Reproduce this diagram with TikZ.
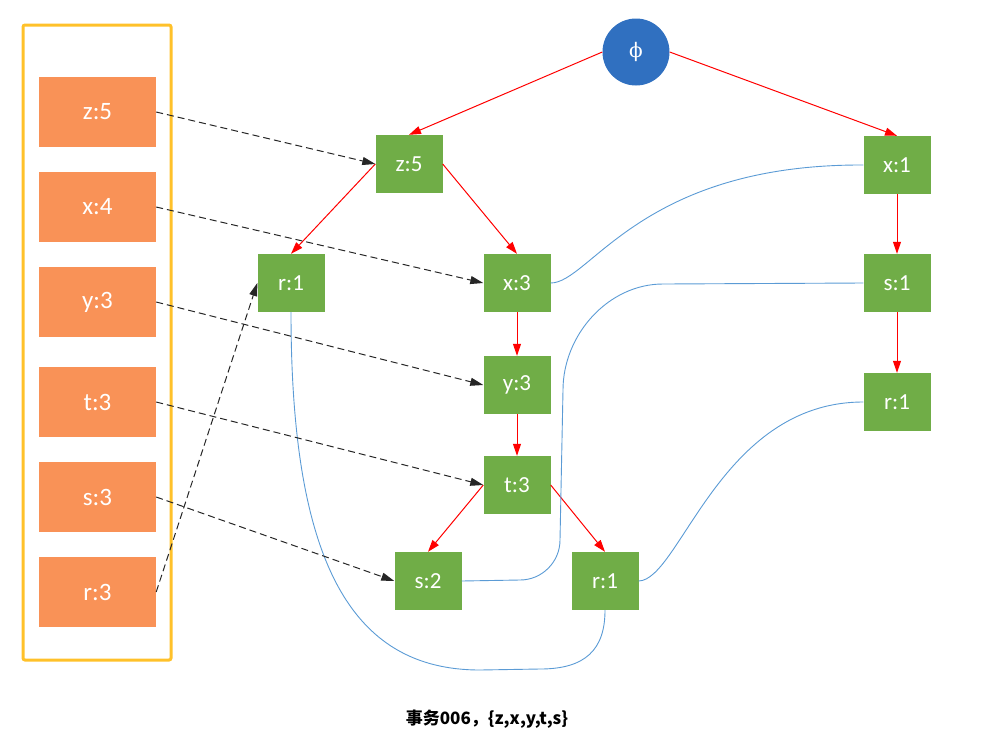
\documentclass[tikz,border=0pt]{standalone}
\usepackage{fontspec}
\setmainfont{Carlito}
\newfontfamily\cjk{Noto Sans CJK SC}
\newfontfamily\greekfont{DejaVu Serif}
\usetikzlibrary{arrows.meta}
\definecolor{itemorange}{HTML}{F99257}
\definecolor{fpgreen}{HTML}{70AD47}
\definecolor{rootblue}{HTML}{3070C0}
\definecolor{linkblue}{HTML}{5B9BD5}
\definecolor{framegold}{HTML}{FFC12A}
\tikzset{
  itemnode/.style = {rectangle, fill=itemorange, text=white, minimum width=117pt, minimum height=70pt, font=\fontsize{25}{30}\selectfont},
  fpnode/.style = {rectangle, fill=fpgreen, text=white, minimum width=67pt, minimum height=58pt, font=\fontsize{23}{28}\selectfont},
  rootnode/.style = {circle, fill=rootblue, text=white, minimum size=67pt, inner sep=0pt, font=\greekfont\fontsize{20}{24}\selectfont},
  tree_e/.style = {draw=red, line width=1pt, -{Triangle[length=12pt,width=8pt]}},
  scan_e/.style = {draw=black!85, line width=1pt, dash pattern=on 7pt off 4pt, -{Triangle[length=13pt,width=8pt]}},
  link_e/.style = {draw=linkblue, line width=0.9pt}
}

\begin{document}
\begin{tikzpicture}[x=1pt, y=-1pt]
    \useasboundingbox (0,0) rectangle (994,740);
    % header table
    \draw[framegold, line width=3pt, rounded corners=2pt] (23,25) rectangle (171,660);
    \node[itemnode] (iz) at (97.5,112) {z:5};
    \node[itemnode] (ix) at (97.5,207) {x:4};
    \node[itemnode] (iy) at (97.5,302) {y:3};
    \node[itemnode] (it) at (97.5,402) {t:3};
    \node[itemnode] (is) at (97.5,497) {s:3};
    \node[itemnode] (ir) at (97.5,592) {r:3};
    % fp tree
    \node[rootnode] (root) at (636,52) {ϕ};
    \node[fpnode] (z5) at (409,164) {z:5};
    \node[fpnode] (r1l) at (291,283) {r:1};
    \node[fpnode] (x3) at (517,283) {x:3};
    \node[fpnode] (y3) at (517,385) {y:3};
    \node[fpnode] (t3) at (517,485) {t:3};
    \node[fpnode] (s2) at (428,581) {s:2};
    \node[fpnode] (r1b) at (605,581) {r:1};
    \node[fpnode] (x1) at (897,165) {x:1};
    \node[fpnode] (s1) at (897,283) {s:1};
    \node[fpnode] (r1r) at (897,402) {r:1};
    % tree edges
    \draw[tree_e] (root.west) -- (z5.north);
    \draw[tree_e] (root.east) -- (x1.north);
    \draw[tree_e] (z5.west) -- (r1l.north);
    \draw[tree_e] (z5.east) -- (x3.north);
    \draw[tree_e] (x3) -- (y3);
    \draw[tree_e] (y3) -- (t3);
    \draw[tree_e] (t3.west) -- (s2.north);
    \draw[tree_e] (t3.east) -- (r1b.north);
    \draw[tree_e] (x1) -- (s1);
    \draw[tree_e] (s1) -- (r1r);
    % node links
    \draw[link_e] (x3.east) .. controls (590,283) and (640,164) .. (x1.west);
    \draw[link_e] (s2.east) -- (520,580) .. controls (542,580) and (560,562) .. (560,540)
        -- (563,390) .. controls (563,335) and (608,284) .. (663,284) -- (s1.west);
    \draw[link_e] (r1b.east) .. controls (680,580) and (720,402) .. (r1r.west);
    \draw[link_e] (r1l.south) .. controls (291,560) and (350,670) .. (480,670)
        -- (540,669) .. controls (585,669) and (605,650) .. (r1b.south);
    % header links
    \draw[scan_e] (iz.east) -- (z5.west);
    \draw[scan_e] (ix.east) -- (x3.west);
    \draw[scan_e] (iy.east) -- (y3.west);
    \draw[scan_e] (it.east) -- (t3.west);
    \draw[scan_e] (is.east) -- (s2.west);
    \draw[scan_e] (ir.east) -- (r1l.west);
    \node[font=\cjk\bfseries\fontsize{17}{20}\selectfont] (caption) at (487,719) {事务006，\{z,x,y,t,s\}};
\end{tikzpicture}
\end{document}
